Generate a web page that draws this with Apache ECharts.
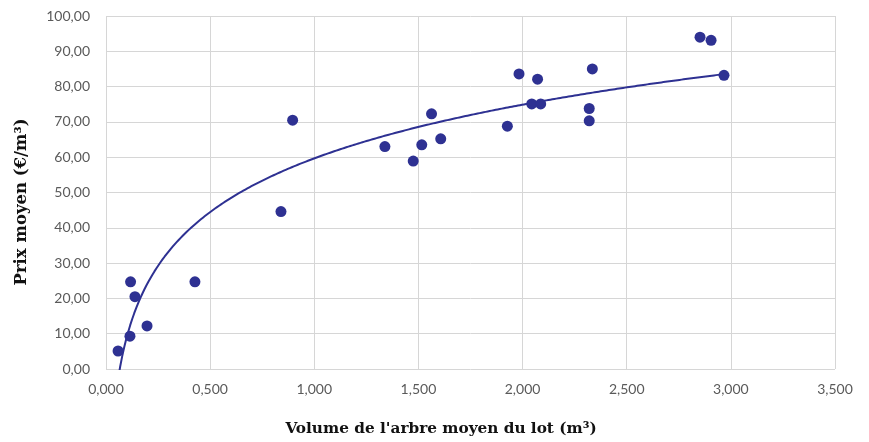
<!DOCTYPE html>
<html>
<head>
<meta charset="utf-8">
<script src="https://cdn.jsdelivr.net/npm/echarts@6/dist/echarts.min.js"></script>
<style>html,body{margin:0;padding:0;background:#fff}#c{width:869px;height:442px}</style>
</head>
<body>
<div id="c"></div>
<script>
// Volume de l'arbre moyen du lot (m³)
const volumes = [0.058, 0.115, 0.118, 0.139, 0.197, 0.427, 0.840, 0.896, 1.339, 1.475, 1.516, 1.563, 1.607, 1.927, 1.983, 2.044, 2.072, 2.087, 2.320, 2.320, 2.335, 2.852, 2.905, 2.967];
// Prix moyen (€/m³)
const prices = [5.1, 9.3, 24.7, 20.5, 12.2, 24.7, 44.6, 70.5, 63.0, 58.9, 63.5, 72.3, 65.2, 68.8, 83.6, 75.1, 82.1, 75.1, 73.8, 70.3, 85.0, 94.0, 93.1, 83.2];
const xTicks = ['0,000','0,500','1,000','1,500','2,000','2,500','3,000','3,500'];
const yTicks = ['0,00','10,00','20,00','30,00','40,00','50,00','60,00','70,00','80,00','90,00','100,00'];

// Logarithmic trendline (least squares on ln x), as in the spreadsheet
const lx = volumes.map(Math.log);
const n = lx.length;
const mx = lx.reduce((a,b)=>a+b,0)/n;
const my = prices.reduce((a,b)=>a+b,0)/n;
let sxy=0,sxx=0;
for(let i=0;i<n;i++){sxy+=(lx[i]-mx)*(prices[i]-my);sxx+=(lx[i]-mx)*(lx[i]-mx);}
const slope=sxy/sxx, icpt=my-slope*mx;
const xmin=Math.min(...volumes), xmax=Math.max(...volumes);
const trend=[];
for(let i=0;i<=300;i++){const x=xmin+(xmax-xmin)*i/300;trend.push([x,slope*Math.log(x)+icpt]);}

const scatterData = volumes.map((v,i)=>[v,prices[i]]);
const col='#2E3192';
const chart = echarts.init(document.getElementById('c'));
chart.setOption({
  animation:false,
  grid:{left:106,right:34,top:16,bottom:73},
  xAxis:{
    type:'value',min:0,max:3.5,interval:0.5,
    name:"Volume de l'arbre moyen du lot (m³)",
    nameLocation:'middle',nameGap:53,
    nameTextStyle:{fontFamily:'DejaVu Serif',fontWeight:'bold',fontSize:15.3,color:'#111',padding:[0,59,0,0]},
    axisLine:{show:false},axisTick:{show:false},
    splitLine:{show:true,lineStyle:{color:'#d6d6d6',width:1}},
    axisLabel:{margin:13,color:'#5a5a5a',fontFamily:'Lato',fontSize:14,formatter:(v)=>xTicks[Math.round(v/0.5)]}
  },
  yAxis:{
    type:'value',min:0,max:100,interval:10,
    name:'Prix moyen (€/m³)',
    nameLocation:'middle',nameGap:76,
    nameTextStyle:{fontFamily:'DejaVu Serif',fontWeight:'bold',fontSize:16.5,color:'#111',padding:[0,19,0,0]},
    axisLine:{show:false},axisTick:{show:false},
    splitLine:{show:true,lineStyle:{color:'#d6d6d6',width:1}},
    axisLabel:{margin:16,color:'#5a5a5a',fontFamily:'Lato',fontSize:14,formatter:(v)=>yTicks[Math.round(v/10)]}
  },
  series:[
    {type:'line',data:trend,showSymbol:false,symbol:'none',clip:true,lineStyle:{color:col,width:2},z:2},
    {type:'scatter',data:scatterData,symbolSize:11,itemStyle:{color:col,opacity:1},z:3}
  ]
});
</script>
</body>
</html>
